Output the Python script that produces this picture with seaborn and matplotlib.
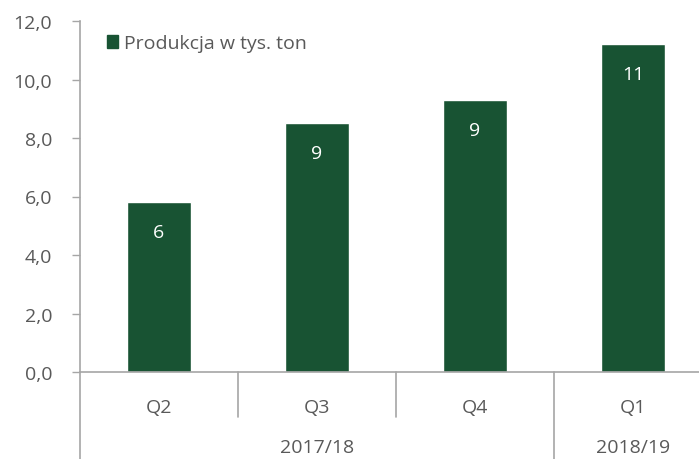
import numpy as np
import pandas as pd
import matplotlib
matplotlib.use("Agg")
import matplotlib.pyplot as plt
from matplotlib.patches import Patch
from matplotlib.ticker import FuncFormatter
import seaborn as sns

# Data
quarters = ["Q2", "Q3", "Q4", "Q1"]
years = ["2017/18", "2017/18", "2017/18", "2018/19"]
production = [5.8, 8.5, 9.3, 11.2]
bar_labels = ["6", "9", "9", "11"]
series_name = "Produkcja w tys. ton"

df = pd.DataFrame({"kw": [f"{y} {q}" for y, q in zip(years, quarters)],
                   "val": production})

sns.set_style("white")
plt.rcParams["font.family"] = ["Open Sans", "DejaVu Sans"]

bar_color = "#185333"
text_color = "#595959"
line_color = "#a6a6a6"
fs = 14

fig = plt.figure(figsize=(6.99, 4.60), dpi=100)
# axes box in pixels: left 80, right 712 (cropped by figure), y 22..373
ax = fig.add_axes([80 / 699, (460 - 373) / 460, 632 / 699, 351 / 460])

sns.barplot(data=df, x="kw", y="val", color=bar_color, width=0.4,
            saturation=1, ax=ax)

ax.set_xlim(-0.5, 3.5)
ax.set_ylim(0, 12)
ax.set_yticks(np.arange(0, 12.1, 2))
ax.yaxis.set_major_formatter(FuncFormatter(lambda v, p: f"{v:.1f}".replace(".", ",")))
ax.tick_params(axis="y", direction="out", length=6, width=1, color=line_color,
               labelsize=fs, labelcolor=text_color, pad=14, left=True)
ax.set_xticks([])
ax.set_xlabel("")
ax.set_ylabel("")

for side in ["top", "right"]:
    ax.spines[side].set_visible(False)
for side in ["left", "bottom"]:
    ax.spines[side].set_color(line_color)
    ax.spines[side].set_linewidth(1.2)

# value labels inside the bars
for bar, lab in zip(ax.patches, bar_labels):
    ax.annotate(lab, (bar.get_x() + bar.get_width() / 2, bar.get_height()),
                xytext=(0, -21.5), textcoords="offset points", ha="center",
                va="center", color="white", fontsize=fs)

# multi-level category axis
tr = ax.get_xaxis_transform()
for i, q in enumerate(quarters):
    ax.text(i, -0.10, q, transform=tr, ha="center", va="center",
            fontsize=fs, color=text_color)
# separators: short between quarters, long between years
for b in [0.5, 1.5]:
    ax.plot([b, b], [0, -0.128], transform=tr, color=line_color, lw=1.2, clip_on=False)
for b in [-0.5, 2.5]:
    ax.plot([b, b], [0, -0.26], transform=tr, color=line_color, lw=1.2, clip_on=False)

year_groups = {}
for i, y in enumerate(years):
    year_groups.setdefault(y, []).append(i)
for y, idx in year_groups.items():
    ax.text(np.mean(idx), -0.213, y, transform=tr, ha="center", va="center",
            fontsize=fs, color=text_color)

ax.legend(handles=[Patch(color=bar_color)], labels=[series_name],
          loc="upper left", bbox_to_anchor=(0.042, 0.962), frameon=False,
          handlelength=0.6, handleheight=0.6, handletextpad=0.3,
          borderpad=0, borderaxespad=0, fontsize=fs, labelcolor=text_color)

fig.savefig("out.png", dpi=100)
